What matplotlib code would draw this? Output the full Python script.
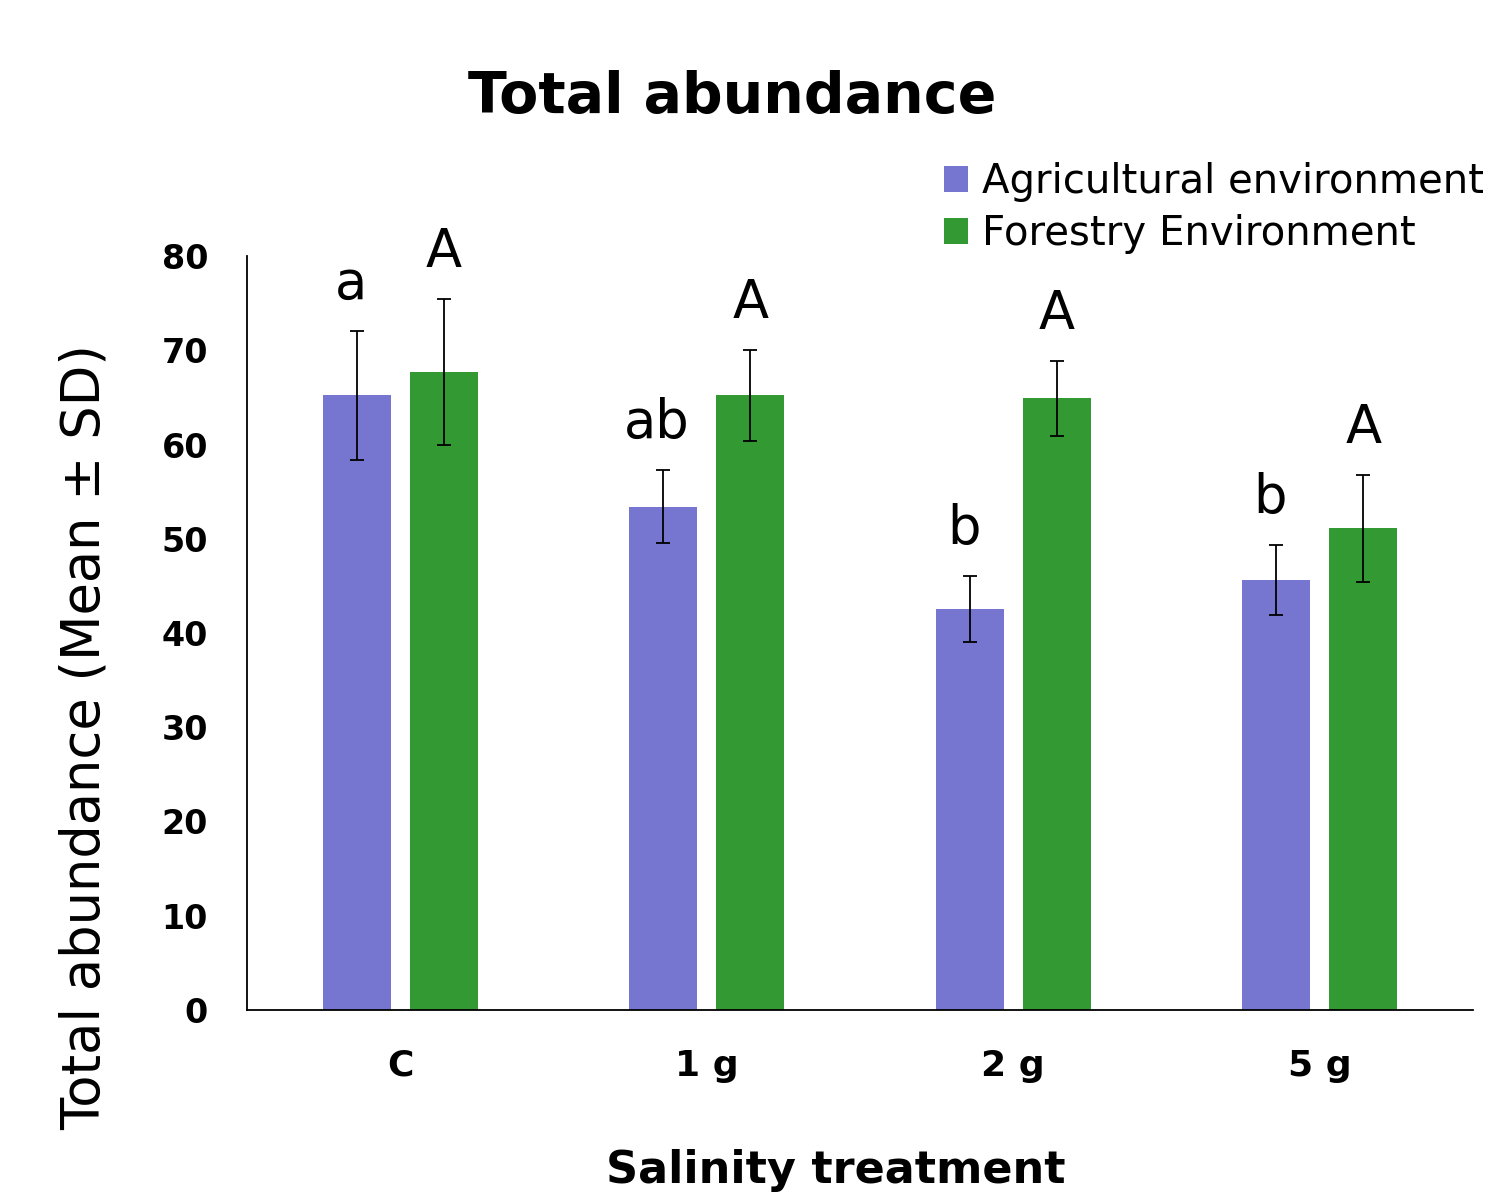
import matplotlib
matplotlib.use("Agg")
import matplotlib.pyplot as plt
import numpy as np

plt.rcParams['font.family'] = ['DejaVu Sans']

categories = ["C", "1 g", "2 g", "5 g"]
series_names = ["Agricultural environment", "Forestry Environment"]
agri_mean = [65.2, 53.4, 42.5, 45.6]
agri_sd = [6.8, 3.9, 3.5, 3.7]
forest_mean = [67.7, 65.2, 64.9, 51.1]
forest_sd = [7.7, 4.8, 4.0, 5.7]
agri_letters = ["a", "ab", "b", "b"]
forest_letters = ["A", "A", "A", "A"]

colors = ["#7675D0", "#339933"]

fig = plt.figure(figsize=(14.88, 11.98), dpi=100)
ax = fig.add_axes([247/1488, 1-1010/1198, (1473-247)/1488, (1010-256)/1198])

x = np.arange(len(categories))
w = 0.222
off = 0.142
b1 = ax.bar(x - off, agri_mean, w, color=colors[0], label=series_names[0], zorder=2)
b2 = ax.bar(x + off, forest_mean, w, color=colors[1], label=series_names[1], zorder=2)
ax.errorbar(x - off, agri_mean, yerr=agri_sd, fmt='none', ecolor='black',
            elinewidth=1.3, capsize=5, capthick=1.3, zorder=3)
ax.errorbar(x + off, forest_mean, yerr=forest_sd, fmt='none', ecolor='black',
            elinewidth=1.3, capsize=5, capthick=1.3, zorder=3)

for i in range(len(categories)):
    ax.text(x[i] - off - 0.02, agri_mean[i] + agri_sd[i] + 3.4, agri_letters[i],
            ha='center', va='baseline', fontsize=38, clip_on=False)
    ax.text(x[i] + off, forest_mean[i] + forest_sd[i] + 3.4, forest_letters[i],
            ha='center', va='baseline', fontsize=38, clip_on=False)

ax.set_xlim(-0.5, 3.5)
ax.set_ylim(0, 80)
ax.set_yticks(np.arange(0, 81, 10))
ax.set_xticks(x)
ax.set_xticklabels(categories, fontsize=26, fontweight='bold')
ax.tick_params(axis='y', labelsize=24, length=0, pad=28)
ax.tick_params(axis='x', length=0, pad=28)
for lab in ax.get_yticklabels():
    lab.set_fontweight('bold')
ax.spines['top'].set_visible(False)
ax.spines['right'].set_visible(False)
ax.spines['left'].set_linewidth(1.3)
ax.spines['bottom'].set_linewidth(1.3)

fig.text(732/1488, 1-97/1198, "Total abundance", ha='center', va='center',
         fontsize=41, fontweight='bold')
fig.text(85/1488, 1-737/1198, "Total abundance (Mean \u00b1 SD)", ha='center', va='center',
         rotation=90, fontsize=38)
fig.text(836/1488, 1-1170/1198, "Salinity treatment", ha='center', va='center',
         fontsize=32, fontweight='bold')

leg = fig.legend(handles=[b1, b2], labels=series_names, loc='upper left',
                 bbox_to_anchor=(928/1488, 1-146/1198), frameon=False, fontsize=29,
                 handlelength=0.6, handleheight=0.6, handletextpad=0.35,
                 labelspacing=0.3, borderaxespad=0)

fig.savefig("out.png", dpi=100)
